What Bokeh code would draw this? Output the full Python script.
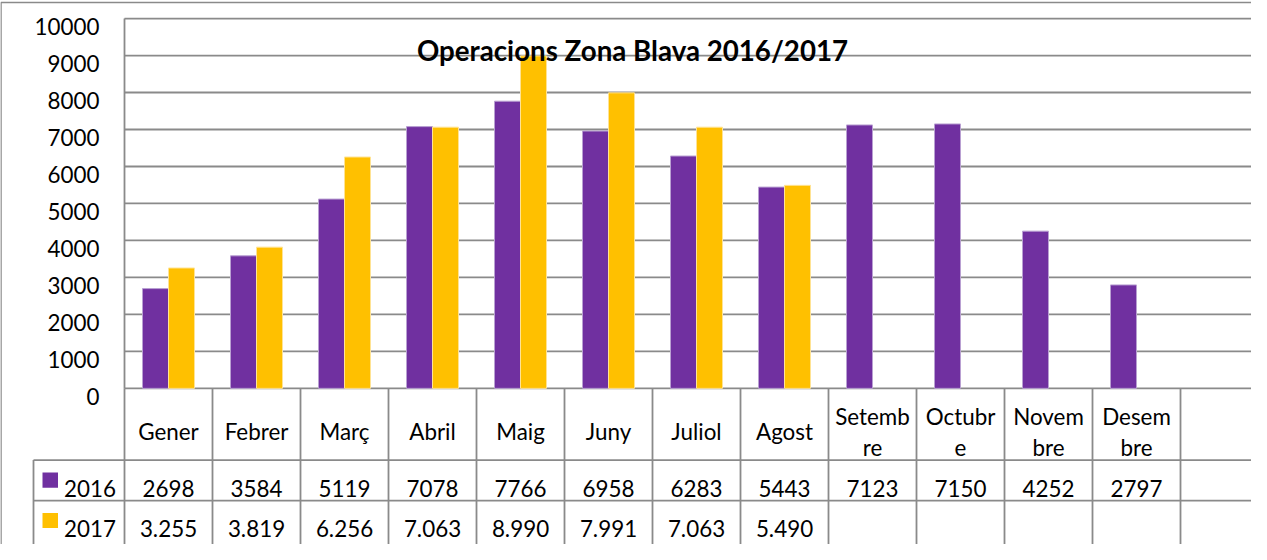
from bokeh.plotting import figure
from bokeh.models import Range1d
from bokeh.embed import file_html
from bokeh.resources import INLINE
from bokeh.core.properties import value

# ---------------- data ----------------
title_text = "Operacions Zona Blava 2016/2017"
months = ["Gener", "Febrer", "Març", "Abril", "Maig", "Juny", "Juliol", "Agost",
          "Setembre", "Octubre", "Novembre", "Desembre"]
header_labels = ["Gener", "Febrer", "Març", "Abril", "Maig", "Juny", "Juliol", "Agost",
                 "Setemb\nre", "Octubr\ne", "Novem\nbre", "Desem\nbre"]
series_names = ["2016", "2017"]
vals_2016 = [2698, 3584, 5119, 7078, 7766, 6958, 6283, 5443, 7123, 7150, 4252, 2797]
vals_2017 = [3255, 3819, 6256, 7063, 8990, 7991, 7063, 5490]
labels_2016 = ["2698", "3584", "5119", "7078", "7766", "6958", "6283", "5443",
               "7123", "7150", "4252", "2797"]
labels_2017 = ["3.255", "3.819", "6.256", "7.063", "8.990", "7.991", "7.063", "5.490"]
y_ticks = [0, 1000, 2000, 3000, 4000, 5000, 6000, 7000, 8000, 9000, 10000]

# ---------------- layout / style ----------------
C16, C16_EDGE = "#7030A0", "#B9A0D2"
C17, C17_EDGE = "#FFC000", "#FFE394"
GRID = "#8A8A8A"
FONT = value("Lato")

W, H = 1251, 544          # figure size; page margin 8px
PAGE = 8
S = 0.9732                 # slight vertical compression so the table fits

# horizontal: reference px -> category units
X0PX, CATPX = 132.0, 88.0


def X(px):
    return (px - X0PX) / CATPX


# vertical: reference px -> page px -> value units
def PY(yref):
    return 10 + (yref - 12.5) * S


ZERO_PY = PY(409.0)
PXPER = (PY(409.0) - PY(29.0)) / 10000.0


def Y(yref):
    return (ZERO_PY - PY(yref)) / PXPER


def Ypage(py):
    return (ZERO_PY - py) / PXPER


FS = "%.1fpx" % (23 * S)
TFS = "%.1fpx" % (28.5 * S)

p = figure(width=W, height=H, output_backend="svg", toolbar_location=None,
           x_range=Range1d(X(PAGE), X(PAGE + W)),
           y_range=Range1d(Ypage(PAGE + H), Ypage(PAGE)),
           min_border=0)
p.axis.visible = False
p.grid.visible = False
p.outline_line_color = None
p.background_fill_color = "white"
p.border_fill_color = "white"

n_cols = len(months) + 1
right = X(1300)

# outer chart border
p.line(x=[X(8.5), X(8.5), right], y=[Y(700), Y(12.5), Y(12.5)], line_color=GRID, line_width=1.5)

# gridlines
p.segment(x0=[0] * len(y_ticks), x1=[right] * len(y_ticks), y0=y_ticks, y1=y_ticks,
          line_color=GRID, line_width=1.8)
# value axis line
p.segment(x0=[0], x1=[0], y0=[0], y1=[y_ticks[-1]], line_color=GRID, line_width=1.8)

# y tick labels
p.text(x=[X(107)] * len(y_ticks), y=[t - 7.8 / PXPER for t in y_ticks],
       text=[str(t) for t in y_ticks], text_align="right", text_baseline="alphabetic",
       text_font=FONT, text_font_size=FS, text_color="black")

# bars
bw = 26 / CATPX
off = 13 / CATPX
p.vbar(x=[i + 0.5 - off for i in range(len(vals_2016))], top=vals_2016, bottom=0, width=bw,
       fill_color=C16, line_color=C16_EDGE, line_width=1)
p.vbar(x=[i + 0.5 + off for i in range(len(vals_2017))], top=vals_2017, bottom=0, width=bw,
       fill_color=C17, line_color=C17_EDGE, line_width=1)

# title
p.text(x=[X(640)], y=[Y(61.5)], text=[title_text], text_align="center",
       text_baseline="alphabetic", text_font=FONT, text_font_size=TFS,
       text_font_style="bold", text_color="black")

# ---------------- data table ----------------
row2_top, row3_top, bottom = 482.7, 524.3, 800.0
xs_v = [i for i in range(n_cols + 1)]
p.segment(x0=xs_v, x1=xs_v, y0=[0] * len(xs_v), y1=[Y(bottom)] * len(xs_v),
          line_color=GRID, line_width=1.8)
p.segment(x0=[X(41)], x1=[X(41)], y0=[Y(row2_top)], y1=[Y(bottom)], line_color=GRID, line_width=1.8)
p.segment(x0=[X(41), X(41)], x1=[right, right], y0=[Y(row2_top), Y(row3_top)],
          y1=[Y(row2_top), Y(row3_top)], line_color=GRID, line_width=1.8)

# header labels (Excel-style wrapped)
one_x, one_t, l1_x, l1_t, l2_x, l2_t = [], [], [], [], [], []
for i, lab in enumerate(header_labels):
    parts = lab.split("\n")
    if len(parts) == 1:
        one_x.append(i + 0.5); one_t.append(parts[0])
    else:
        l1_x.append(i + 0.5); l1_t.append(parts[0])
        l2_x.append(i + 0.5); l2_t.append(parts[1])
common = dict(text_baseline="alphabetic", text_font=FONT, text_font_size=FS, text_color="black")
p.text(x=one_x, y=[Y(453.5)] * len(one_x), text=one_t, text_align="center", **common)
p.text(x=l1_x, y=[Y(438)] * len(l1_x), text=l1_t, text_align="center", **common)
p.text(x=l2_x, y=[Y(470)] * len(l2_x), text=l2_t, text_align="center", **common)

# value rows
p.text(x=[i + 0.5 for i in range(len(labels_2016))], y=[Y(511.5)] * len(labels_2016),
       text=labels_2016, text_align="center", **common)
p.text(x=[i + 0.5 for i in range(len(labels_2017))], y=[Y(553)] * len(labels_2017),
       text=labels_2017, text_align="center", **common)

# legend keys in the table
p.quad(left=[X(50), X(50)], right=[X(65.5), X(65.5)], bottom=[Y(511), Y(552.5)],
       top=[Y(495.5), Y(537)], fill_color=[C16, C17], line_color=None)
p.text(x=[X(71.5), X(71.5)], y=[Y(511.5), Y(553)], text=series_names, text_align="left", **common)

open("out.html", "w").write(file_html(p, INLINE))
